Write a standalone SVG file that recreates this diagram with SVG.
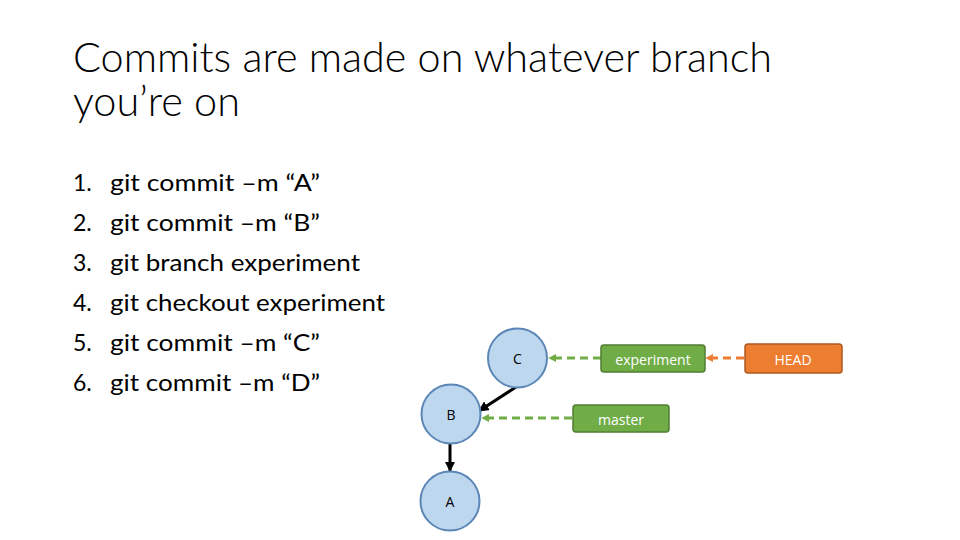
<svg xmlns="http://www.w3.org/2000/svg" width="960" height="540" viewBox="0 0 960 540">
<style>
.title{font-family:Lato,"Liberation Sans",Arial,sans-serif;font-weight:300;font-size:41px;fill:#000}
.item{font-family:Lato,"Liberation Sans",Arial,sans-serif;font-size:23px;fill:#000}
.commit circle{fill:#BDD7EE;stroke:#5B86B6;stroke-width:2}
.lbl{font-family:"Open Sans","Liberation Sans",Arial,sans-serif;font-size:14px;text-anchor:middle;dominant-baseline:central}
.commit text{fill:#000}
.ref text{fill:#fff}
.green rect{fill:#70AD47;stroke:#507E32;stroke-width:1.5}
.orange rect{fill:#ED7D31;stroke:#AE5A21;stroke-width:1.5}
.solid{stroke:#000;stroke-width:3;fill:none}
.dg{stroke:#70AD47;stroke-width:3;stroke-dasharray:8 5;fill:none}
.do{stroke:#ED7D31;stroke-width:3;stroke-dasharray:8 5;fill:none}
</style>
<defs>
<marker id="ab" viewBox="0 0 10 10" refX="9" refY="5" markerWidth="3.5" markerHeight="3.5" orient="auto" markerUnits="strokeWidth"><path d="M0,0 L10,5 L0,10 z" fill="#000"/></marker>
<marker id="ag" viewBox="0 0 10 10" refX="9" refY="5" markerWidth="2.6" markerHeight="2.6" orient="auto" markerUnits="strokeWidth"><path d="M0,0 L10,5 L0,10 z" fill="#70AD47"/></marker>
<marker id="ao" viewBox="0 0 10 10" refX="9" refY="5" markerWidth="2.6" markerHeight="2.6" orient="auto" markerUnits="strokeWidth"><path d="M0,0 L10,5 L0,10 z" fill="#ED7D31"/></marker>
</defs>
<rect width="960" height="540" fill="#fff"/>
<text class="title" x="73" y="72" textLength="699" lengthAdjust="spacingAndGlyphs">Commits are made on whatever branch</text>
<text class="title" x="73" y="116" textLength="167" lengthAdjust="spacingAndGlyphs">you’re on</text>
<g id="list">
<text class="item" x="73" y="191">1.</text><text class="item" x="110" y="191" textLength="210" lengthAdjust="spacingAndGlyphs">git commit –m “A”</text>
<text class="item" x="73" y="231">2.</text><text class="item" x="110" y="231" textLength="210" lengthAdjust="spacingAndGlyphs">git commit –m “B”</text>
<text class="item" x="73" y="271">3.</text><text class="item" x="110" y="271" textLength="250" lengthAdjust="spacingAndGlyphs">git branch experiment</text>
<text class="item" x="73" y="311">4.</text><text class="item" x="110" y="311" textLength="275" lengthAdjust="spacingAndGlyphs">git checkout experiment</text>
<text class="item" x="73" y="351">5.</text><text class="item" x="110" y="351" textLength="210" lengthAdjust="spacingAndGlyphs">git commit –m “C”</text>
<text class="item" x="73" y="391">6.</text><text class="item" x="110" y="391" textLength="210" lengthAdjust="spacingAndGlyphs">git commit –m “D”</text>
</g>
<g id="connectors">
<line class="solid" x1="516" y1="387" x2="479" y2="411" marker-end="url(#ab)"/>
<line class="solid" x1="450" y1="443" x2="450" y2="471" marker-end="url(#ab)"/>
<line class="dg" x1="601" y1="358" x2="549" y2="358" marker-end="url(#ag)"/>
<line class="dg" x1="572" y1="418" x2="482" y2="418" marker-end="url(#ag)"/>
<line class="do" x1="744" y1="358" x2="706" y2="358" marker-end="url(#ao)"/>
</g>
<g id="nodeC" class="commit"><circle cx="517.5" cy="358" r="29.5"/><text class="lbl" x="517.5" y="358">C</text></g>
<g id="nodeB" class="commit"><circle cx="451" cy="414" r="29.5"/><text class="lbl" x="451" y="414">B</text></g>
<g id="nodeA" class="commit"><circle cx="450" cy="501" r="29.5"/><text class="lbl" x="450" y="501">A</text></g>
<g id="experiment" class="ref green"><rect x="601" y="345" width="104" height="27" rx="3"/><text class="lbl" x="653" y="359">experiment</text></g>
<g id="master" class="ref green"><rect x="573" y="405" width="96" height="27" rx="3"/><text class="lbl" x="621" y="419">master</text></g>
<g id="head" class="ref orange"><rect x="745" y="344" width="97" height="29" rx="3"/><text class="lbl" x="793" y="359">HEAD</text></g>
</svg>
